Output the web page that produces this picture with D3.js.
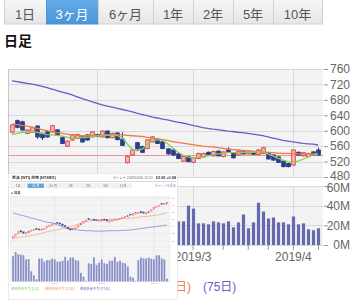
<!DOCTYPE html>
<html>
<head>
<meta charset="utf-8">
<script src="https://cdn.jsdelivr.net/npm/d3@7"></script>
<style>
  body { margin: 0; background: #fff; }
  svg { display: block; font-family: "Liberation Sans", "Noto Sans CJK JP", sans-serif; }
</style>
</head>
<body>
<div id="chart"></div>
<script>
//Period tabs and title
const periods = ["1日", "3ヶ月", "6ヶ月", "1年", "2年", "5年", "10年"];
const activePeriod = "3ヶ月";
const chartTitle = "日足";

//Trading days per month (2019)
const janDays = [8, 9, 10, 11, 15, 16, 17, 18, 21, 22, 23, 24, 25, 28, 29, 30, 31];
const febDays = [1, 4, 5, 6, 7, 8, 12, 13, 14, 15, 18, 19, 20, 21, 22, 25, 26, 27, 28];
const marDays = [1, 4, 5, 6, 7, 8, 11, 12, 13, 14, 15, 18, 19, 20, 22, 25, 26, 27, 28, 29];
const aprDays = [1, 2, 3, 4, 5, 8];

//Daily prices
const open = [596, 626, 623, 593, 596, 612, 593, 597, 597, 602, 582, 560, 576, 580, 584, 589, 584, 590, 584, 599,
  582, 594, 578, 517, 537, 569, 559, 554, 571, 578, 571, 553, 550, 540, 521, 533, 518, 528, 532, 544,
  535, 547, 533, 552, 541, 537, 545, 540, 545, 538, 541, 543, 537, 532, 521, 515, 511, 544, 535, 533, 545, 550];
const close = [615, 609, 602, 602, 608, 584, 582, 584, 613, 589, 567, 573, 589, 590, 571, 576, 597, 585, 599, 582,
  593, 577, 562, 534, 550, 553, 544, 576, 584, 567, 554, 540, 537, 528, 533, 520, 530, 541, 541, 538,
  546, 535, 545, 544, 530, 547, 540, 545, 539, 550, 556, 527, 524, 518, 507, 507, 550, 537, 543, 541, 537, 537];
const high = [618, 629, 626, 604, 610, 614, 595, 599, 615, 604, 584, 575, 591, 592, 586, 591, 599, 592, 601, 601,
  595, 596, 596, 536, 552, 571, 561, 578, 586, 580, 573, 555, 552, 542, 535, 535, 532, 543, 543, 546,
  548, 549, 547, 557, 543, 549, 547, 547, 547, 552, 558, 545, 539, 534, 523, 517, 552, 546, 545, 543, 547, 556];
const low = [593, 606, 599, 591, 594, 579, 576, 582, 595, 587, 565, 558, 574, 578, 569, 574, 582, 583, 582, 580,
  580, 575, 560, 515, 535, 551, 542, 552, 569, 565, 552, 538, 535, 526, 519, 518, 516, 526, 530, 536,
  533, 533, 531, 542, 528, 535, 538, 538, 537, 536, 539, 525, 522, 516, 505, 505, 509, 535, 533, 531, 535, 535];

//Moving averages
const ma5 = [589, 593, 596, 597, 597, 596, 593, 590, 589, 588, 586, 583, 581, 581, 582, 583, 585, 586, 587, 588,
  589, 587, 582, 565, 552, 548, 553, 565, 573, 577, 575, 566, 556, 545, 537, 533, 529, 530, 533, 535,
  538, 540, 541, 543, 543, 543, 543, 544, 544, 545, 545, 540, 535, 529, 524, 520, 519, 521, 526, 532, 537, 540];
const ma25 = [617, 616, 614, 612, 609, 606, 603, 600, 597, 595, 593, 591, 589, 588, 587, 587, 587, 588, 589, 589,
  590, 590, 589, 588, 587, 586, 585, 583, 581, 579, 577, 575, 572, 570, 568, 566, 564, 562, 560, 559,
  558, 556, 554, 552, 551, 550, 549, 548, 547, 546, 545, 544, 543, 542, 541, 541, 540, 540, 540, 540, 540, 540];
const ma75 = [729, 727, 725, 723, 721, 718, 715, 712, 708, 704, 700, 697, 693, 688, 683, 679, 675, 671, 667, 664,
  661, 658, 655, 652, 649, 645, 642, 639, 635, 633, 630, 628, 625, 622, 620, 617, 614, 611, 608, 606,
  604, 603, 601, 599, 598, 596, 595, 593, 591, 589, 587, 584, 581, 578, 575, 573, 571, 569, 567, 566, 565, 563];
const lastPrice = 538;

//Volume (millions)
const volume = [30, 35, 33, 32, 31, 28, 27, 20, 14, 12, 28, 27, 26, 29, 30, 27, 24, 25, 28, 27,
  25, 24, 26, 15, 12, 24, 22, 21, 27, 26, 24, 28, 30, 24, 24, 40, 37, 22, 22, 21,
  24, 23, 22, 24, 18, 23, 31, 17, 23, 43, 34, 27, 28, 23, 23, 21, 29, 21, 22, 16, 15, 17];

//Axis ticks and legend
const priceTicks = [480, 520, 560, 600, 640, 680, 720, 760];
const volumeTicks = [0, 20, 40, 60];
const legendLabels = ["(5日)", "(25日)", "(75日)"];

//Inset screenshot (WTI chart)
const insetHeader = "原油 (WTI) 先物 (NYMEX)";
const insetStamp = "ディレイ 2019/04/05 15:20";
const insetQuote = "63.08 +0.98";
const insetLink = "チャートを見る";
const insetTitle = "● 日足";
const insetTicks = [50, 52, 54, 56, 58, 60, 62];
const insetMonths = ["2019/2", "2019/3", "2019/4"];
const insetMonthIdx = [16, 34, 54];
const insetOpen = [50.6, 51.2, 51.9, 52.8, 52.5, 51.8, 52.2, 52.6, 52.8, 53.5, 53.3, 52.9, 53.1, 53.5, 53.9, 54.2, 54.5, 55.2, 55.0, 54.7,
  54.3, 53.8, 53.4, 53.0, 53.3, 53.8, 54.4, 54.9, 55.3, 56.2, 55.6, 56.1, 55.9, 55.4, 55.5, 56.1, 55.9, 55.2, 55.4, 55.6,
  55.8, 55.9, 56.2, 56.5, 56.7, 57.5, 57.1, 57.4, 57.6, 58.2, 58.1, 57.5, 57.8, 58.3, 58.9, 59.3, 59.6, 60.5, 60.1, 60.3];
const insetClose = [51.1, 51.8, 52.5, 52.4, 52.0, 52.3, 52.7, 53.0, 53.2, 53.1, 53.0, 53.3, 53.5, 53.9, 54.4, 54.7, 54.9, 54.8, 54.6, 54.2,
  53.9, 53.3, 53.0, 53.4, 53.7, 54.4, 54.9, 55.4, 55.8, 55.9, 56.0, 55.7, 55.6, 55.8, 55.9, 55.7, 55.5, 55.6, 55.8, 56.0,
  56.1, 56.3, 56.6, 56.9, 57.1, 57.2, 57.6, 57.9, 58.0, 57.8, 57.7, 57.9, 58.2, 58.8, 59.4, 59.7, 60.0, 60.2, 60.5, 60.7];
const insetMa25 = [50.7, 50.8, 50.9, 51.0, 51.1, 51.2, 51.3, 51.4, 51.6, 51.7, 51.9, 52.1, 52.3, 52.5, 52.7, 52.8, 52.9, 53.1, 53.2, 53.4,
  53.6, 53.8, 54.0, 54.2, 54.4, 54.6, 54.9, 55.2, 55.4, 55.5, 55.6, 55.7, 55.8, 55.8, 55.9, 55.9, 56.0, 56.0, 56.0, 56.1,
  56.1, 56.2, 56.2, 56.3, 56.3, 56.4, 56.4, 56.5, 56.6, 56.7, 56.8, 56.8, 56.9, 57.0, 57.1, 57.2, 57.3, 57.5, 57.6, 57.8];
const insetMa75 = [57.8, 57.6, 57.4, 57.2, 57.0, 56.8, 56.6, 56.4, 56.2, 56.0, 55.8, 55.6, 55.4, 55.2, 55.1, 55.0, 54.8, 54.5, 54.2, 53.9,
  53.6, 53.4, 53.3, 53.2, 53.1, 53.0, 52.9, 52.9, 52.8, 52.8, 52.8, 52.7, 52.7, 52.7, 52.7, 52.7, 52.8, 52.8, 52.8, 52.8,
  52.8, 52.9, 52.9, 52.9, 53.0, 53.0, 53.1, 53.2, 53.3, 53.4, 53.5, 53.6, 53.7, 53.8, 53.9, 54.0, 54.1, 54.2, 54.3, 54.4];
const insetVolume = [79, 92, 85, 84, 82, 69, 70, 32, 19, 7, 72, 72, 62, 67, 67, 72, 69, 62, 62, 65,
  77, 65, 75, 75, 67, 65, 27, 15, 2, 57, 55, 75, 52, 59, 69, 57, 55, 65, 65, 77,
  62, 65, 59, 57, 47, 15, 12, 2, 67, 75, 72, 72, 75, 72, 69, 82, 82, 72, 69, 9];
const insetLegend = ["単純移動平均 (5日)", "単純移動平均 (25日)", "単純移動平均 (75日)"];

//Colors
const upStroke = "#e5484d", upFill = "#f6bcbc", downColor = "#2b3d8e";
const maColors = ["#86cf52", "#f07a48", "#7457c6"];
const gridColor = "#d8d8d8", panelColor = "#f3f3f3";

//Dimensions
const width = 360, height = 303;
const plotL = 8, plotR = 323;

const dates = [].concat(
  janDays.map(d => new Date(2019, 0, d)),
  febDays.map(d => new Date(2019, 1, d)),
  marDays.map(d => new Date(2019, 2, d)),
  aprDays.map(d => new Date(2019, 3, d)));
const idx = d3.range(dates.length);

const monthStarts = idx.filter(i => i > 0 && dates[i].getMonth() !== dates[i - 1].getMonth());
const weekStarts = idx.filter(i => i > 0 && +d3.timeMonday.floor(dates[i]) !== +d3.timeMonday.floor(dates[i - 1]))
  .filter(i => !monthStarts.some(m => i > m && i - m <= 3));
const tickIdx = Array.from(new Set(monthStarts.concat(weekStarts))).sort((a, b) => a - b);

//Scales
const x = d3.scalePoint().domain(idx).range([12, 318]);
const y = d3.scaleLinear().domain([480, 760]).range([177, 69]);
const vy = d3.scaleLinear().domain([0, 60]).range([245, 186]);

const svg = d3.select("#chart").append("svg")
  .attr("width", width).attr("height", height)
  .attr("viewBox", [0, 0, width, height]);

const defs = svg.append("defs");
const gOff = defs.append("linearGradient").attr("id", "tabOff").attr("x1", 0).attr("x2", 0).attr("y1", 0).attr("y2", 1);
gOff.append("stop").attr("offset", 0).attr("stop-color", "#f7f7f7");
gOff.append("stop").attr("offset", 1).attr("stop-color", "#e6e6e6");
const gOn = defs.append("linearGradient").attr("id", "tabOn").attr("x1", 0).attr("x2", 0).attr("y1", 0).attr("y2", 1);
gOn.append("stop").attr("offset", 0).attr("stop-color", "#66ade8");
gOn.append("stop").attr("offset", 1).attr("stop-color", "#4895da");
defs.append("filter").attr("id", "soft").attr("x", 0).attr("y", 0).attr("width", 1).attr("height", 1)
  .append("feGaussianBlur").attr("stdDeviation", 0.3);

//Tabs
const tabEdges = [4, 46, 98, 153, 193, 233, 273, 322];
const tab = svg.append("g").selectAll("g").data(periods).join("g");
tab.append("rect")
  .attr("x", (d, i) => tabEdges[i] + 0.5).attr("y", -1)
  .attr("width", (d, i) => tabEdges[i + 1] - tabEdges[i]).attr("height", 25)
  .attr("fill", d => d === activePeriod ? "url(#tabOn)" : "url(#tabOff)")
  .attr("stroke", d => d === activePeriod ? "#4a93d4" : "#d2d2d2");
tab.append("text")
  .attr("x", (d, i) => (tabEdges[i] + tabEdges[i + 1]) / 2).attr("y", 18.5)
  .attr("text-anchor", "middle").attr("font-size", 13)
  .attr("fill", d => d === activePeriod ? "#fff" : "#555")
  .text(d => d);

svg.append("text").attr("x", 4).attr("y", 45.5)
  .attr("font-size", 14).attr("font-weight", "bold").attr("fill", "#111")
  .text(chartTitle);

//Panels
svg.append("rect").attr("x", plotL).attr("y", y(760)).attr("width", plotR - plotL).attr("height", y(480) - y(760)).attr("fill", panelColor);
svg.append("rect").attr("x", plotL).attr("y", vy(60)).attr("width", plotR - plotL).attr("height", vy(0) - vy(60)).attr("fill", panelColor);

const grid = svg.append("g").attr("stroke", gridColor).attr("stroke-width", 1);
grid.selectAll(".hp").data(priceTicks).join("line")
  .attr("x1", plotL).attr("x2", plotR)
  .attr("y1", d => Math.round(y(d)) + 0.5).attr("y2", d => Math.round(y(d)) + 0.5);
grid.selectAll(".hv").data(volumeTicks).join("line")
  .attr("x1", plotL).attr("x2", plotR)
  .attr("y1", d => Math.round(vy(d)) + 0.5).attr("y2", d => Math.round(vy(d)) + 0.5);
grid.selectAll(".vm").data(monthStarts).join("line")
  .attr("x1", i => Math.round(x(i)) + 0.5).attr("x2", i => Math.round(x(i)) + 0.5)
  .attr("y1", y(760)).attr("y2", y(480));
grid.selectAll(".vv").data(monthStarts).join("line")
  .attr("x1", i => Math.round(x(i)) + 0.5).attr("x2", i => Math.round(x(i)) + 0.5)
  .attr("y1", vy(60)).attr("y2", vy(0));
grid.append("line").attr("x1", plotL + 0.5).attr("x2", plotL + 0.5).attr("y1", y(760)).attr("y2", y(480)).attr("stroke", "#c8c8c8");
grid.append("line").attr("x1", plotL + 0.5).attr("x2", plotL + 0.5).attr("y1", vy(60)).attr("y2", vy(0)).attr("stroke", "#c8c8c8");

//Last price line
svg.append("line").attr("x1", plotL).attr("x2", plotR)
  .attr("y1", Math.round(y(lastPrice)) + 0.5).attr("y2", Math.round(y(lastPrice)) + 0.5)
  .attr("stroke", "#f29494").attr("stroke-width", 1);

//Candles
const candle = svg.append("g").selectAll("g").data(idx).join("g");
candle.append("line")
  .attr("x1", i => Math.round(x(i)) + 0.5).attr("x2", i => Math.round(x(i)) + 0.5)
  .attr("y1", i => y(high[i])).attr("y2", i => y(low[i]))
  .attr("stroke", i => close[i] >= open[i] ? upStroke : downColor);
candle.append("rect")
  .attr("x", i => Math.round(x(i)) - 1.3).attr("width", 3.6)
  .attr("y", i => y(Math.max(open[i], close[i])))
  .attr("height", i => Math.max(1, Math.abs(y(open[i]) - y(close[i]))))
  .attr("fill", i => close[i] >= open[i] ? upFill : downColor)
  .attr("stroke", i => close[i] >= open[i] ? upStroke : downColor)
  .attr("stroke-width", 1);

//Moving average lines
const line = d3.line().x((d, i) => x(i)).y(d => y(d));
[ma75, ma25, ma5].forEach((s, k) => {
  svg.append("path").datum(s).attr("d", line)
    .attr("fill", "none").attr("stroke", maColors[2 - k]).attr("stroke-width", 1.3);
});

//Volume bars
svg.append("g").selectAll("rect").data(idx).join("rect")
  .attr("x", i => Math.round(x(i)) - 1.1).attr("width", 3.2)
  .attr("y", i => vy(volume[i])).attr("height", i => vy(0) - vy(volume[i]))
  .attr("fill", "#6569ad");

//Axes
const styleAxis = g => {
  g.attr("font-size", 12).attr("font-family", null);
  g.select(".domain").remove();
  g.selectAll(".tick line").attr("stroke", "#9a9a9a");
  g.selectAll(".tick text").attr("fill", "#666");
};
svg.append("g").attr("transform", `translate(${plotR + 1},0)`)
  .call(d3.axisRight(y).tickValues(priceTicks).tickSize(4).tickPadding(3))
  .call(styleAxis)
  .call(g => g.selectAll(".tick text").attr("text-anchor", "end").attr("x", 26)
    .attr("dy", d => d === 480 ? "0.2em" : "0.32em"));
svg.append("g").attr("transform", `translate(${plotR + 1},0)`)
  .call(d3.axisRight(vy).tickValues(volumeTicks).tickSize(4).tickFormat(d => d + "M"))
  .call(styleAxis)
  .call(g => g.selectAll(".tick text").attr("text-anchor", "end").attr("x", 26)
    .attr("dy", d => d === 60 ? "0.45em" : "0.32em"));
svg.append("g").attr("transform", `translate(0,${vy(0)})`)
  .call(d3.axisBottom(x).tickValues(tickIdx).tickSize(5).tickFormat(""))
  .call(styleAxis);
svg.append("g").attr("transform", `translate(0,${vy(0)})`)
  .call(d3.axisBottom(x).tickValues(monthStarts).tickSize(0).tickPadding(7.5)
    .tickFormat(i => d3.timeFormat("%Y/")(dates[i]) + (dates[i].getMonth() + 1)))
  .call(styleAxis);

//Legend
const legendX = [124, 191, 203];
svg.append("g").selectAll("text").data(legendLabels).join("text")
  .attr("x", (d, i) => legendX[i]).attr("y", 291)
  .attr("text-anchor", (d, i) => i === 2 ? "start" : "end")
  .attr("font-size", 12).attr("fill", (d, i) => maColors[i])
  .text(d => d);

//Inset screenshot of another chart
const inset = svg.append("g");
inset.append("rect").attr("x", 8.5).attr("y", 173.5).attr("width", 169).attr("height", 126)
  .attr("fill", "#fff").attr("stroke", "#dcdcdc").attr("stroke-width", 0.6);
const ig = inset.append("g").attr("filter", "url(#soft)");

const ix = d3.scalePoint().domain(d3.range(insetClose.length)).range([13, 167]);
const iy = d3.scaleLinear().domain([50, 62]).range([240.7, 198]);
const ivy = d3.scaleLinear().domain([0, 100]).range([281.5, 249.5]);

ig.append("text").attr("x", 12).attr("y", 179).attr("font-size", 3.8).attr("font-weight", "bold").attr("fill", "#333").text(insetHeader);
ig.append("text").attr("x", 113).attr("y", 179).attr("font-size", 3.3).attr("fill", "#666").text(insetStamp);
ig.append("text").attr("x", 176).attr("y", 179).attr("text-anchor", "end").attr("font-size", 3.8).attr("font-weight", "bold").attr("fill", "#333").text(insetQuote);
ig.append("line").attr("x1", 10).attr("x2", 176).attr("y1", 181.5).attr("y2", 181.5).attr("stroke", "#bbb").attr("stroke-width", 0.6);

const insetTab = ig.append("g").selectAll("g").data(periods).join("g");
insetTab.append("rect")
  .attr("x", (d, i) => 10 + i * 17.5).attr("y", 183.5).attr("width", 16.5).attr("height", 4.5)
  .attr("fill", d => d === activePeriod ? "#5aa3e4" : "#f1f1f1")
  .attr("stroke", "#ddd").attr("stroke-width", 0.3);
insetTab.append("text")
  .attr("x", (d, i) => 18.25 + i * 17.5).attr("y", 187.1)
  .attr("text-anchor", "middle").attr("font-size", 3)
  .attr("fill", d => d === activePeriod ? "#fff" : "#777").text(d => d);
ig.append("text").attr("x", 176).attr("y", 187.1).attr("text-anchor", "end").attr("font-size", 3).attr("fill", "#6a7fb0").text(insetLink);
ig.append("text").attr("x", 11).attr("y", 194.3).attr("font-size", 3.3).attr("font-weight", "bold").attr("fill", "#444").text(insetTitle);

ig.append("rect").attr("x", 10).attr("y", 196.5).attr("width", 160).attr("height", 51.5).attr("fill", "#f4f4f4").attr("stroke", "#e0e0e0").attr("stroke-width", 0.4);
ig.append("rect").attr("x", 10).attr("y", 249.5).attr("width", 160).attr("height", 32).attr("fill", "#f4f4f4").attr("stroke", "#e0e0e0").attr("stroke-width", 0.4);
ig.append("g").selectAll("line").data(insetTicks).join("line")
  .attr("x1", 10).attr("x2", 170).attr("y1", d => iy(d)).attr("y2", d => iy(d))
  .attr("stroke", "#e2e2e2").attr("stroke-width", 0.4);
ig.append("g").selectAll("line").data(insetMonthIdx).join("line")
  .attr("x1", i => ix(i)).attr("x2", i => ix(i)).attr("y1", 196.5).attr("y2", 281.5)
  .attr("stroke", "#dcdcdc").attr("stroke-width", 0.5);
ig.append("g").selectAll("text").data(insetTicks).join("text")
  .attr("x", 172).attr("y", d => iy(d) + 0.8).attr("font-size", 2.4).attr("fill", "#999").text(d => d);
ig.append("g").selectAll("text").data(insetMonths).join("text")
  .attr("x", (d, i) => ix(insetMonthIdx[i])).attr("y", 284.2).attr("text-anchor", "middle")
  .attr("font-size", 2.2).attr("fill", "#999").text(d => d);

ig.append("g").selectAll("rect").data(insetVolume).join("rect")
  .attr("x", (d, i) => ix(i) - 0.9).attr("width", 1.8)
  .attr("y", d => ivy(d)).attr("height", d => ivy(0) - ivy(d))
  .attr("fill", "#8a8fc8");

const iline = d3.line().x((d, i) => ix(i)).y(d => iy(d));
ig.append("path").datum(insetMa75).attr("d", iline).attr("fill", "none").attr("stroke", "#7d72c2").attr("stroke-width", 0.7);
ig.append("path").datum(insetMa25).attr("d", iline).attr("fill", "none").attr("stroke", "#efa070").attr("stroke-width", 0.7);
ig.append("g").selectAll("rect").data(insetClose).join("rect")
  .attr("x", (d, i) => ix(i) - 0.8).attr("width", 1.6)
  .attr("y", (d, i) => iy(Math.max(d, insetOpen[i])))
  .attr("height", (d, i) => Math.max(0.8, Math.abs(iy(d) - iy(insetOpen[i]))))
  .attr("fill", (d, i) => d >= insetOpen[i] ? "#f4b0b0" : "#3b4c98")
  .attr("stroke", (d, i) => d >= insetOpen[i] ? "#e3585c" : "#3b4c98")
  .attr("stroke-width", 0.3);

const insetLegendX = [11, 45, 80];
ig.append("g").selectAll("text").data(insetLegend).join("text")
  .attr("x", (d, i) => insetLegendX[i]).attr("y", 290.3)
  .attr("font-size", 3.3).attr("fill", (d, i) => ["#8fd466", "#efa070", "#7d72c2"][i])
  .text(d => d);
</script>
</body>
</html>
